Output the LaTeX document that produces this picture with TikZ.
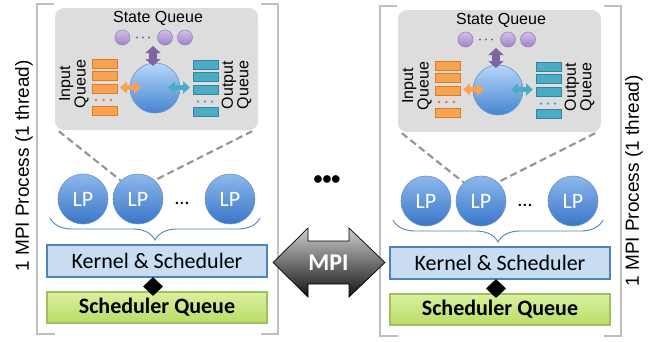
\documentclass[tikz,border=0pt]{standalone}
\usepackage{fontspec}
\setmainfont{Liberation Sans}
\newfontfamily\calibri{Carlito}
\usetikzlibrary{decorations.pathreplacing,arrows.meta,shapes.geometric,calc}

\definecolor{framegray}{RGB}{191,191,191}
\definecolor{boxgray}{RGB}{221,221,221}
\definecolor{dashgray}{RGB}{150,150,150}
\definecolor{qorange}{RGB}{248,163,82}
\definecolor{qorangedk}{RGB}{226,122,36}
\definecolor{qteal}{RGB}{75,172,198}
\definecolor{qtealdk}{RGB}{49,133,156}
\definecolor{spurple}{RGB}{128,100,162}
\definecolor{spurplelt}{RGB}{210,192,235}
\definecolor{spurplemd}{RGB}{160,130,200}
\definecolor{lpblue}{RGB}{79,129,189}
\definecolor{lptop}{RGB}{140,184,236}
\definecolor{lpbot}{RGB}{58,118,200}
\definecolor{balltop}{RGB}{182,215,250}
\definecolor{ballbot}{RGB}{70,132,210}
\definecolor{kernfill}{RGB}{200,220,242}
\definecolor{sqtop}{RGB}{218,240,158}
\definecolor{sqbot}{RGB}{186,220,104}
\definecolor{sqedge}{RGB}{160,192,95}
\definecolor{mpitop}{RGB}{205,205,205}
\definecolor{mpibot}{RGB}{20,20,20}

\tikzset{
  x=1pt, y=-1pt,
  frame/.style={draw=framegray, line width=1.2pt},
  statebox/.style={fill=boxgray, rounded corners=9pt, inner sep=0pt,
    minimum width=203pt, minimum height=122pt},
  arial/.style={font=\fontsize{16}{14}\selectfont},
  pcirc/.style={circle, inner sep=0pt, minimum size=15pt,
    top color=spurplelt, bottom color=spurplemd, draw=spurple!80, line width=0.6pt},
  pdot/.style={fill=spurple},
  obar/.style={rectangle, inner sep=0pt, minimum width=25pt, minimum height=9pt,
    fill=qorange, draw=qorangedk, line width=0.8pt},
  tbar/.style={rectangle, inner sep=0pt, minimum width=25pt, minimum height=9pt,
    fill=qteal, draw=qtealdk, line width=0.8pt},
  ball/.style={circle, inner sep=0pt, minimum size=50pt,
    top color=balltop, bottom color=ballbot, draw=lpblue!85, line width=0.6pt},
  lp/.style={circle, inner sep=0pt, minimum size=50pt,
    top color=lptop, bottom color=lpbot, draw=lpblue!85, line width=0.6pt,
    text=white, font=\calibri\fontsize{22}{24}\selectfont},
  oarrow/.style={qorange, line width=5pt,
    {Triangle[length=7pt,width=12pt]}-{Triangle[length=7pt,width=12pt]}},
  tarrow/.style={qteal, line width=5pt,
    {Triangle[length=7pt,width=12pt]}-{Triangle[length=7pt,width=12pt]}},
  parrow/.style={spurple, line width=8pt,
    {Triangle[length=7pt,width=15pt]}-{Triangle[length=7pt,width=15pt]}},
  dashline/.style={dashgray, line width=2.2pt, dash pattern=on 7pt off 4pt},
  bracestyle/.style={lpblue, line width=0.9pt,
    decorate, decoration={brace, amplitude=22pt}},
  kern/.style={rectangle, fill=kernfill, draw=lpblue, line width=1.2pt,
    minimum width=220pt, minimum height=32pt, inner sep=0pt,
    font=\calibri\fontsize{22}{24}\selectfont},
  schedq/.style={rectangle, top color=sqtop, bottom color=sqbot, draw=sqedge,
    line width=1.2pt, minimum width=220pt, minimum height=31pt, inner sep=0pt,
    font=\calibri\bfseries\fontsize{22}{24}\selectfont},
  agg/.style={diamond, fill=black, inner sep=0pt, minimum width=20pt, minimum height=19pt},
  proclabel/.style={rotate=90, font=\fontsize{19}{22}\selectfont},
}

\begin{document}
\begin{tikzpicture}
\useasboundingbox (0,0) rectangle (665,341);

\foreach \p/\dx/\dy in {L/0/0, R/343/2} {
\begin{scope}[shift={(\dx,\dy)}]
  % process frame (two brackets)
  \draw[frame] (54,4) -- (37,4) -- (37,334) -- (55,334);
  \draw[frame] (261,4) -- (278,4) -- (278,334) -- (261,334);

  % zoomed view of one LP
  \node[statebox] (gb\p) at (156.5,69) {};
  \node[arial, anchor=base] (sqt\p) at (158,22.5) {State Queue};
  \node[pcirc] (pc1\p) at (122.5,37.5) {};
  \node[pcirc] (pc2\p) at (165,37.5) {};
  \node[pcirc] (pc3\p) at (185,37.5) {};
  \foreach \xx in {137,143,149} \fill[pdot] (\xx,37.5) circle (1.2);

  \node[obar] (ob1\p) at (104.5,63.8) {};
  \node[obar] (ob2\p) at (104.5,76.2) {};
  \node[obar] (ob3\p) at (104.5,88.5) {};
  \node[obar] (ob4\p) at (104.5,111.3) {};
  \foreach \xx in {96,103.5,111} \fill[qorangedk] (\xx,100) circle (1.4);

  \node[tbar] (tb1\p) at (205.5,65) {};
  \node[tbar] (tb2\p) at (205.5,77.2) {};
  \node[tbar] (tb3\p) at (205.5,89.5) {};
  \node[tbar] (tb4\p) at (205.5,112.2) {};
  \foreach \xx in {198,205,212} \fill[qteal] (\xx,101.5) circle (1.4);

  \node[arial, rotate=90, align=center] (iq\p) at (74,84) {Input\\Queue};
  \node[arial, rotate=90, align=center] (oq\p) at (236.5,85) {Output\\Queue};

  \node[ball] (ball\p) at (155,88) {};

  \coordinate (oa1\p) at (120,87.5);
  \coordinate (oa2\p) at (141,87.5);
  \coordinate (ta1\p) at (168,87.5);
  \coordinate (ta2\p) at (190,87.5);
  \coordinate (pa1\p) at (153,46);
  \coordinate (pa2\p) at (153,66);
  \draw[oarrow] (oa1\p) -- (oa2\p);
  \draw[tarrow] (ta1\p) -- (ta2\p);
  \draw[parrow] (pa1\p) -- (pa2\p);

  % logical processes
  \node[lp] (lpa\p) at (83,199) {LP};
  \node[lp] (lpb\p) at (138,199) {LP};
  \node[lp] (lpc\p) at (230,199) {LP};
  \node[font=\calibri\fontsize{20}{24}\selectfont] (el\p) at (182,203) {…};

  \draw[dashline] ($(gb\p.south west)+(4,1)$) -- (lpb\p.133);
  \draw[dashline] ($(gb\p.south east)+(-6,1)$) -- (lpb\p.48);

  \coordinate (bra\p) at (260,218);
  \coordinate (brb\p) at (50,218);
  \draw[bracestyle] (bra\p) -- (brb\p);

  % kernel and its queue
  \node[kern] (k\p) at (157,261) {Kernel \& Scheduler};
  \node[schedq] (s\p) at (157,307.5) {Scheduler Queue};
  \node[agg] (d\p) at (153,286.5) {};
  \draw[line width=0.8pt] (k\p.south -| d\p.center) -- (s\p.north -| d\p.center);
\end{scope}
}

% process captions
\node[proclabel] (capL) at (24,166) {1 MPI Process (1 thread)};
\node[proclabel] (capR) at (634,181) {1 MPI Process (1 thread)};

% more processes
\node[font=\calibri\bfseries\fontsize{18}{20}\selectfont] (more) at (327,180) {•••};

% MPI double arrow between the two kernels
\shade[top color=mpitop, bottom color=mpibot]
  (273,262.5) -- (308,228) -- (308,241) -- (349,241) -- (349,228) -- (385,262.5)
  -- (349,297) -- (349,284) -- (308,284) -- (308,297) -- cycle;
\draw[line width=0.7pt, black]
  (273,262.5) -- (308,228) -- (308,241) -- (349,241) -- (349,228) -- (385,262.5)
  -- (349,297) -- (349,284) -- (308,284) -- (308,297) -- cycle;
\node[text=white, font=\calibri\bfseries\fontsize{24}{28}\selectfont] (mpi) at (328.5,263) {MPI};
\end{tikzpicture}
\end{document}
